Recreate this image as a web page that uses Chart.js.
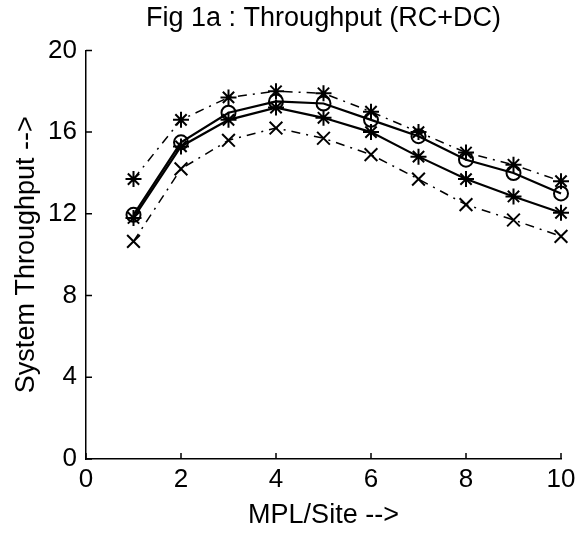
<!DOCTYPE html>
<html>
<head>
<meta charset="utf-8">
<script src="https://cdn.jsdelivr.net/npm/chart.js@4/dist/chart.umd.min.js"></script>
<style>
  html, body { margin: 0; padding: 0; background: #fff; }
  #wrap { width: 577px; height: 537px; }
</style>
</head>
<body>
<div id="wrap"><canvas id="fig1a"></canvas></div>
<script>
// MPL per site on the x axis
let mpl = [1, 2, 3, 4, 5, 6, 7, 8, 9, 10];

// throughput curves
let starDashDot = [13.7, 16.6, 17.7, 18.0, 17.9, 17.0, 16.0, 15.0, 14.4, 13.6];
let circleSolid = [11.95, 15.5, 16.95, 17.5, 17.4, 16.6, 15.8, 14.65, 14.0, 13.0];
let starSolid = [11.8, 15.3, 16.6, 17.2, 16.7, 16.0, 14.8, 13.7, 12.85, 12.05];
let crossDashDot = [10.65, 14.2, 15.6, 16.2, 15.7, 14.9, 13.7, 12.45, 11.7, 10.9];

let xTicks = [0, 2, 4, 6, 8, 10];
let yTicks = [0, 4, 8, 12, 16, 20];

function pts(vals) {
    return vals.map((v, i) => ({ x: mpl[i], y: v }));
}

Chart.defaults.font.family = "'Liberation Sans', Arial, Helvetica, sans-serif";
Chart.defaults.font.size = 26;
Chart.defaults.color = '#000';

// matlab style ticks pointing into the plot
let inwardTicks = {
    id: 'inwardTicks',
    afterDraw(chart) {
        let ctx = chart.ctx;
        let xs = chart.scales.x, ys = chart.scales.y;
        ctx.save();
        ctx.strokeStyle = '#000';
        ctx.lineWidth = 1.5;
        ctx.beginPath();
        xTicks.forEach(t => {
            let px = xs.getPixelForValue(t);
            ctx.moveTo(px, ys.bottom);
            ctx.lineTo(px, ys.bottom - 6);
        });
        yTicks.forEach(t => {
            let py = ys.getPixelForValue(t);
            ctx.moveTo(xs.left, py);
            ctx.lineTo(xs.left + 6, py);
        });
        ctx.stroke();
        ctx.restore();
    }
};

let fig = new Chart(document.getElementById('fig1a').getContext('2d'), {
    type: 'line',
    data: {
        datasets: [{
            data: pts(starDashDot),
            borderColor: '#000',
            borderWidth: 1.5,
            borderDash: [9, 6, 2, 6],
            pointStyle: 'star',
            pointRadius: 8,
            pointBorderWidth: 2,
            pointBorderColor: '#000',
            clip: false,
            fill: false
        }, {
            data: pts(circleSolid),
            borderColor: '#000',
            borderWidth: 2.2,
            pointStyle: 'circle',
            pointRadius: 7,
            pointBorderWidth: 2,
            pointBorderColor: '#000',
            pointBackgroundColor: 'rgba(0,0,0,0)',
            clip: false,
            fill: false
        }, {
            data: pts(starSolid),
            borderColor: '#000',
            borderWidth: 2.2,
            pointStyle: 'star',
            pointRadius: 8,
            pointBorderWidth: 2,
            pointBorderColor: '#000',
            clip: false,
            fill: false
        }, {
            data: pts(crossDashDot),
            borderColor: '#000',
            borderWidth: 1.5,
            borderDash: [9, 6, 2, 6],
            pointStyle: 'crossRot',
            pointRadius: 9,
            pointBorderWidth: 2,
            pointBorderColor: '#000',
            clip: false,
            fill: false
        }]
    },
    options: {
        responsive: true,
        maintainAspectRatio: false,
        animation: false,
        events: [],
        layout: { padding: { left: 0, right: 16, top: 0, bottom: 0 } },
        plugins: {
            legend: { display: false },
            tooltip: { enabled: false },
            title: {
                display: true,
                text: 'Fig 1a : Throughput (RC+DC)',
                fullSize: false,
                font: { size: 27, weight: 'normal' },
                padding: { top: 2, bottom: 16 }
            }
        },
        scales: {
            x: {
                type: 'linear',
                min: 0,
                max: 10,
                afterBuildTicks: s => { s.ticks = xTicks.map(v => ({ value: v })); },
                afterFit: s => { s.height = 78; s.paddingRight = 0; },
                ticks: { padding: 5, maxRotation: 0 },
                grid: { display: false, drawTicks: false },
                border: { display: true, color: '#000', width: 1.5 },
                title: { display: true, text: 'MPL/Site -->', font: { size: 27 }, padding: { top: 0, bottom: 5 } }
            },
            y: {
                type: 'linear',
                min: 0,
                max: 20,
                afterBuildTicks: s => { s.ticks = yTicks.map(v => ({ value: v })); },
                afterFit: s => { s.width = 86; },
                ticks: { padding: 9 },
                grid: { display: false, drawTicks: false },
                border: { display: true, color: '#000', width: 1.5 },
                title: { display: true, text: 'System Throughput -->', font: { size: 27 }, padding: { top: 10, bottom: 0 } }
            }
        }
    },
    plugins: [inwardTicks]
});
</script>
</body>
</html>
